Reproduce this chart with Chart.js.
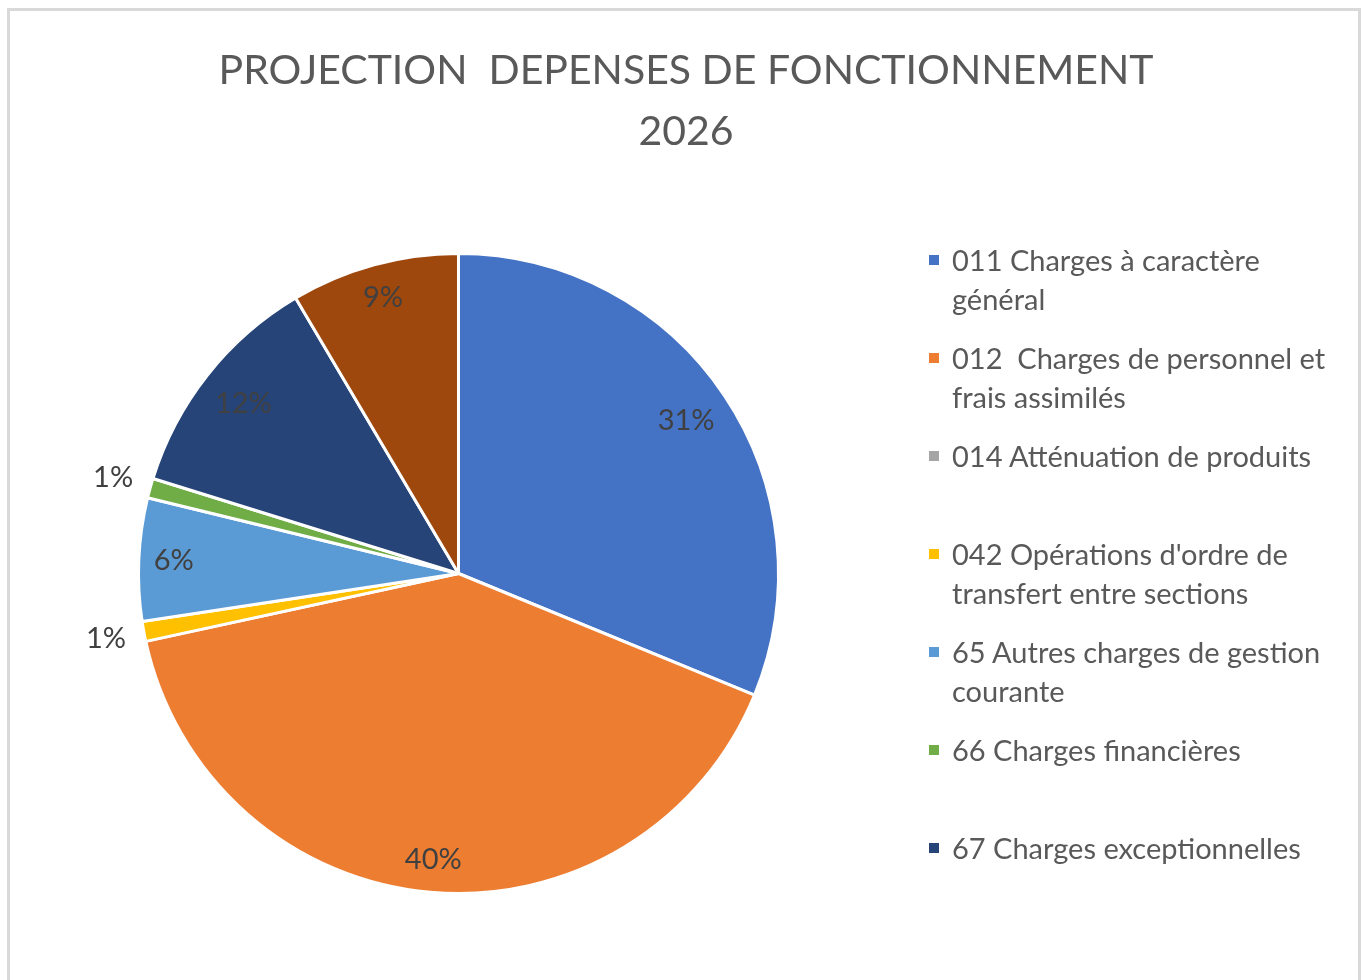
<!DOCTYPE html>
<html lang="fr">
<head>
<meta charset="utf-8">
<title>Projection dépenses de fonctionnement 2026</title>
<script src="https://cdn.jsdelivr.net/npm/chart.js@4.4.1/dist/chart.umd.min.js"></script>
<style>
  html, body { margin: 0; padding: 0; background: #fff; overflow: hidden; }
  body { width: 1362px; height: 980px; position: relative; font-family: Lato, "Open Sans", sans-serif; }
  #frame { position: absolute; left: 7px; top: 8px; width: 1348px; height: 1000px; border: 3px solid #d9d9d9; box-sizing: content-box; }
  #chart { position: absolute; left: 0; top: 0; }
  #titre { position: absolute; left: 10px; top: 38px; width: 1352px; text-align: center; color: #595959;
           font-size: 41px; line-height: 61px; white-space: pre; }
  #legende { position: absolute; left: 929px; top: 240px; width: 430px; height: 686px; overflow: hidden;
             margin: 0; padding: 0; list-style: none; }
  #legende li { position: relative; height: 98px; padding-left: 23px; color: #595959; font-size: 29px;
                line-height: 39px; white-space: pre; }
  #legende li span.carre { position: absolute; left: 0; top: 15px; width: 10px; height: 10px; }
</style>
</head>
<body>
<div id="frame"></div>
<canvas id="chart" width="1362" height="980"></canvas>
<div id="titre"></div>
<ul id="legende"></ul>

<script>
// Données du graphique (parts en %)
const titre = ['PROJECTION  DEPENSES DE FONCTIONNEMENT', '2026'];

const chapitres = [
    ['011 Charges à caractère', 'général'],
    ['012  Charges de personnel et', 'frais assimilés'],
    ['014 Atténuation de produits'],
    ["042 Opérations d'ordre de", 'transfert entre sections'],
    ['65 Autres charges de gestion', 'courante'],
    ['66 Charges financières'],
    ['67 Charges exceptionnelles'],
    ['68 Dotations aux provisions']
];

const parts = [31.2, 40.4, 0, 1.0, 6.2, 1.0, 11.7, 8.5];

const couleurs = ['#4472C4', '#ED7D31', '#A5A5A5', '#FFC000', '#5B9BD5', '#70AD47', '#264478', '#9E480E'];

// Titre
document.getElementById('titre').textContent = titre.join('\n');

// Légende (à droite, coupée comme dans Excel)
const legende = document.getElementById('legende');
chapitres.forEach((lignes, i) => {
    const li = document.createElement('li');
    const carre = document.createElement('span');
    carre.className = 'carre';
    carre.style.background = couleurs[i];
    li.appendChild(carre);
    li.appendChild(document.createTextNode(lignes.join('\n')));
    legende.appendChild(li);
});

// Plugin pour afficher les pourcentages sur les parts
// (à l'intérieur : le coin de l'étiquette reste à 14px du bord ; petites parts : à l'extérieur)
const etiquettesPlugin = {
    id: 'etiquettes',
    afterDatasetsDraw(chart) {
        const ctx = chart.ctx;
        const meta = chart.getDatasetMeta(0);
        const valeurs = chart.data.datasets[0].data;
        const total = valeurs.reduce((a, b) => a + b, 0);
        ctx.save();
        ctx.font = '29px Lato, "Open Sans", sans-serif';
        ctx.fillStyle = '#404040';
        ctx.textAlign = 'center';
        ctx.textBaseline = 'middle';
        meta.data.forEach((arc, i) => {
            const v = valeurs[i];
            if (!v) return;
            const pct = v / total * 100;
            const texte = Math.round(pct) + '%';
            const { x, y, startAngle, endAngle, outerRadius } = arc.getProps(['x', 'y', 'startAngle', 'endAngle', 'outerRadius'], true);
            const milieu = (startAngle + endAngle) / 2;
            const cx = Math.cos(milieu), cy = Math.sin(milieu);
            let r;
            if (pct < 2) {
                r = outerRadius * 1.12;
            } else {
                const w = ctx.measureText(texte).width, h = 30, R = outerRadius - 14;
                const b = w * Math.abs(cx) + h * Math.abs(cy);
                const c = (w * w + h * h) / 4 - R * R;
                r = (-b + Math.sqrt(b * b - 4 * c)) / 2;
            }
            ctx.fillText(texte, x + cx * r, y + cy * r);
        });
        ctx.restore();
    }
};

function creerGraphique() {
    const ctx = document.getElementById('chart').getContext('2d');
    new Chart(ctx, {
        type: 'pie',
        data: {
            labels: chapitres,
            datasets: [{
                data: parts,
                backgroundColor: couleurs,
                borderColor: '#ffffff',
                borderWidth: 3
            }]
        },
        options: {
            responsive: false,
            animation: false,
            layout: {
                padding: { left: 137, right: 582, top: 252, bottom: 85 }
            },
            plugins: {
                legend: { display: false },
                title: { display: false },
                tooltip: { enabled: false }
            }
        },
        plugins: [etiquettesPlugin]
    });
}

document.fonts.load('29px Lato').then(creerGraphique, creerGraphique);
</script>
</body>
</html>
